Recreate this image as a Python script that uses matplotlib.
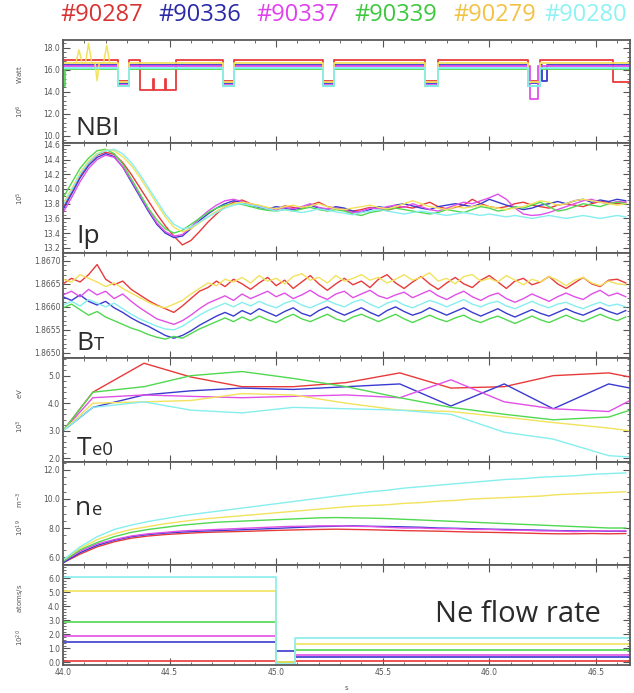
import numpy as np
import matplotlib
matplotlib.use("Agg")
import matplotlib.pyplot as plt
import matplotlib.transforms as mtrans
from matplotlib.ticker import MultipleLocator, FormatStrFormatter

# shots, in the order of the header
shots = ["#90287", "#90336", "#90337", "#90339", "#90279", "#90280"]
title_colors = ["#d83232", "#2a2aa8", "#e040ee", "#3ec83e", "#f2c244", "#8ef2f2"]
line_colors = ["#e83a3a", "#3a3ad0", "#e050e8", "#50d850", "#f2e25c", "#86eeee"]

# ---- NBI power (10^6 W), step traces: (start time, level) ----
nbi_t = [
    [44.0, 44.26, 44.31, 44.36, 44.42, 44.425, 44.48, 44.485, 44.53, 44.75, 44.80, 45.22, 45.27, 45.70, 45.76, 46.18, 46.24, 46.58, 46.66],
    [44.0, 44.26, 44.31, 44.75, 44.80, 45.22, 45.27, 45.70, 45.76, 46.18, 46.24, 46.245, 46.27, 46.66],
    [44.0, 44.26, 44.31, 44.75, 44.80, 45.22, 45.27, 45.70, 45.76, 46.19, 46.23, 46.66],
    [44.0, 44.01, 44.26, 44.31, 44.75, 44.80, 45.22, 45.27, 45.70, 45.76, 46.18, 46.24, 46.66],
    [44.0, 44.26, 44.31, 44.75, 44.80, 45.22, 45.27, 45.70, 45.76, 46.18, 46.24, 46.66],
    [44.0, 44.26, 44.31, 44.75, 44.80, 45.22, 45.27, 45.70, 45.76, 46.18, 46.24, 46.66],
]
nbi_v = [
    [16.85, 15.0, 16.85, 14.2, 15.2, 14.2, 15.2, 14.2, 16.85, 15.0, 16.85, 15.0, 16.85, 15.0, 16.85, 15.0, 16.85, 14.9, 14.9],
    [16.4, 14.8, 16.4, 14.8, 16.4, 14.8, 16.4, 14.8, 16.4, 14.8, 16.4, 15.0, 16.4, 16.4],
    [16.3, 14.6, 16.3, 14.6, 16.3, 14.6, 16.3, 14.6, 16.3, 13.3, 16.3, 16.3],
    [14.5, 16.05, 14.5, 16.05, 14.5, 16.05, 14.5, 16.05, 14.5, 16.05, 14.5, 16.05, 16.05],
    [16.6, 14.9, 16.6, 14.9, 16.6, 14.9, 16.6, 14.9, 16.6, 14.9, 16.6, 16.6],
    [16.2, 14.5, 16.2, 14.5, 16.2, 14.5, 16.2, 14.5, 16.2, 14.5, 16.2, 16.2],
]
# yellow (#90279) spikes at the start
spike_t = [44.06, 44.075, 44.09, 44.105, 44.12, 44.135, 44.15, 44.16, 44.17, 44.19, 44.205, 44.22]
spike_v = [16.6, 17.8, 16.6, 16.6, 18.4, 16.6, 16.6, 15.0, 16.6, 16.6, 18.2, 16.6]

# ---- plasma current (10^5 A), 44.00 .. 46.64 s ----
ip = [
    [13.75, 13.96, 14.18, 14.35, 14.46, 14.50, 14.47, 14.36, 14.20, 14.02, 13.84, 13.66, 13.50, 13.36, 13.24, 13.30, 13.42,
     13.55, 13.66, 13.76, 13.82, 13.85, 13.80, 13.77, 13.74, 13.72, 13.77, 13.75, 13.73, 13.78, 13.82, 13.76, 13.74, 13.72,
     13.70, 13.72, 13.75, 13.73, 13.71, 13.74, 13.76, 13.74, 13.78, 13.82, 13.76, 13.73, 13.75, 13.78, 13.86, 13.80, 13.76,
     13.74, 13.76, 13.80, 13.82, 13.78, 13.76, 13.74, 13.78, 13.80, 13.78, 13.76, 13.80, 13.83, 13.82, 13.80, 13.82],
    [13.72, 13.93, 14.15, 14.32, 14.43, 14.48, 14.44, 14.30, 14.10, 13.90, 13.70, 13.52, 13.40, 13.34, 13.36, 13.46, 13.57,
     13.66, 13.74, 13.80, 13.84, 13.82, 13.78, 13.75, 13.73, 13.76, 13.74, 13.72, 13.75, 13.78, 13.74, 13.72, 13.76, 13.74,
     13.70, 13.68, 13.72, 13.76, 13.74, 13.78, 13.80, 13.77, 13.74, 13.72, 13.76, 13.78, 13.80, 13.78, 13.76, 13.80, 13.86,
     13.82, 13.78, 13.75, 13.72, 13.74, 13.78, 13.80, 13.83, 13.80, 13.84, 13.86, 13.82, 13.85, 13.83, 13.86, 13.84],
    [13.68, 13.88, 14.10, 14.28, 14.40, 14.46, 14.43, 14.30, 14.12, 13.92, 13.72, 13.54, 13.42, 13.36, 13.38, 13.48, 13.60,
     13.70, 13.78, 13.84, 13.86, 13.83, 13.79, 13.76, 13.74, 13.72, 13.75, 13.73, 13.76, 13.80, 13.75, 13.73, 13.74, 13.71,
     13.68, 13.70, 13.74, 13.73, 13.76, 13.78, 13.75, 13.80, 13.76, 13.72, 13.70, 13.74, 13.78, 13.82, 13.80, 13.84, 13.88,
     13.93, 13.86, 13.74, 13.66, 13.64, 13.65, 13.68, 13.72, 13.76, 13.80, 13.84, 13.86, 13.82, 13.80, 13.83, 13.82],
    [13.88, 14.08, 14.28, 14.42, 14.52, 14.54, 14.48, 14.34, 14.14, 13.94, 13.74, 13.58, 13.46, 13.40, 13.44, 13.52, 13.60,
     13.68, 13.74, 13.78, 13.80, 13.79, 13.76, 13.73, 13.71, 13.70, 13.72, 13.70, 13.73, 13.75, 13.72, 13.70, 13.72, 13.70,
     13.66, 13.64, 13.68, 13.70, 13.72, 13.74, 13.72, 13.70, 13.68, 13.66, 13.68, 13.72, 13.70, 13.68, 13.72, 13.76, 13.74,
     13.70, 13.72, 13.76, 13.74, 13.78, 13.82, 13.76, 13.70, 13.72, 13.76, 13.80, 13.78, 13.76, 13.80, 13.82, 13.80],
    [13.80, 14.00, 14.22, 14.38, 14.48, 14.53, 14.52, 14.44, 14.32, 14.16, 13.98, 13.80, 13.62, 13.48, 13.42, 13.46, 13.54,
     13.62, 13.70, 13.76, 13.80, 13.82, 13.80, 13.78, 13.75, 13.73, 13.76, 13.78, 13.75, 13.77, 13.80, 13.76, 13.73, 13.72,
     13.74, 13.76, 13.78, 13.75, 13.73, 13.76, 13.80, 13.84, 13.80, 13.76, 13.74, 13.72, 13.76, 13.74, 13.76, 13.78, 13.76,
     13.74, 13.72, 13.74, 13.76, 13.80, 13.84, 13.82, 13.78, 13.80, 13.84, 13.86, 13.84, 13.82, 13.80, 13.78, 13.80],
    [13.78, 13.98, 14.20, 14.36, 14.47, 14.52, 14.54, 14.48, 14.36, 14.20, 14.02, 13.84, 13.66, 13.52, 13.46, 13.48, 13.55,
     13.62, 13.68, 13.74, 13.78, 13.80, 13.78, 13.76, 13.73, 13.70, 13.72, 13.70, 13.68, 13.70, 13.73, 13.71, 13.69, 13.67,
     13.65, 13.68, 13.70, 13.72, 13.70, 13.68, 13.66, 13.68, 13.70, 13.68, 13.66, 13.64, 13.66, 13.68, 13.66, 13.64, 13.66,
     13.64, 13.62, 13.64, 13.62, 13.60, 13.62, 13.64, 13.62, 13.60, 13.62, 13.64, 13.62, 13.60, 13.62, 13.64, 13.62],
]

# ---- toroidal field, in 1e-4 T above 1.8600 T ----
BT_OFFSET = 1.86
bt = [
    [65.0, 66.2, 65.4, 67.0, 69.2, 66.0, 64.8, 65.6, 63.8, 62.6, 61.4, 60.4, 59.6, 58.8, 60.2, 61.8, 63.4, 64.2, 65.6, 64.4,
     66.0, 65.0, 63.8, 65.2, 66.4, 64.6, 65.8, 64.0, 65.4, 66.8, 65.0, 63.6, 65.0, 66.2, 64.8, 65.6, 64.2, 66.0, 67.0, 65.2,
     64.0, 65.4, 66.6, 65.0, 63.8, 65.2, 66.4, 65.0, 64.2, 65.8, 66.8, 65.4, 64.0, 65.6, 66.2, 64.8, 65.4, 66.6, 65.0, 64.0,
     65.2, 66.4, 65.0, 64.4, 65.8, 66.0, 65.2],
    [62.2, 61.4, 62.6, 61.2, 60.4, 61.2, 59.8, 58.8, 57.6, 56.6, 55.8, 54.8, 53.8, 53.2, 53.8, 54.8, 56.0, 57.0, 58.0, 58.8,
     58.0, 59.2, 58.4, 59.6, 58.8, 58.0, 59.0, 59.8, 58.6, 58.0, 59.2, 60.0, 59.0, 58.2, 59.0, 59.8, 58.8, 58.0, 59.2, 60.0,
     59.0, 58.2, 58.8, 59.8, 59.0, 58.2, 59.0, 59.8, 58.8, 58.0, 58.8, 59.6, 58.6, 57.8, 58.6, 59.4, 58.6, 58.0, 58.8, 59.6,
     58.8, 58.2, 59.0, 59.8, 59.0, 58.4, 59.2],
    [62.6, 63.4, 62.2, 63.8, 62.6, 63.4, 61.8, 62.8, 61.2, 59.8, 58.6, 57.4, 56.8, 56.2, 57.0, 58.2, 59.6, 60.8, 61.6, 62.4,
     61.4, 62.8, 61.8, 62.6, 63.4, 62.2, 63.0, 61.8, 62.6, 63.6, 62.4, 61.6, 62.8, 63.4, 62.0, 62.8, 63.6, 62.4, 61.8, 62.6,
     63.2, 62.0, 62.8, 63.6, 62.4, 61.6, 62.6, 63.4, 62.2, 61.4, 62.4, 63.0, 61.8, 61.0, 61.8, 62.8, 62.0, 61.2, 62.2, 63.0,
     62.2, 61.6, 62.8, 63.6, 62.4, 63.0, 62.2],
    [59.8, 60.6, 59.4, 58.2, 59.0, 57.8, 57.0, 56.2, 55.4, 54.8, 54.0, 53.4, 53.0, 53.6, 53.2, 54.2, 55.2, 56.0, 56.8, 57.6,
     56.8, 57.8, 57.0, 58.0, 57.2, 56.6, 57.6, 58.4, 57.4, 56.8, 57.6, 58.4, 57.4, 56.8, 57.8, 58.4, 57.6, 56.8, 57.6, 58.4,
     57.4, 56.6, 57.4, 58.2, 57.4, 56.8, 57.6, 58.2, 57.2, 56.6, 57.4, 58.0, 57.2, 56.4, 57.2, 58.0, 57.2, 56.6, 57.4, 58.2,
     57.4, 56.8, 57.6, 58.4, 57.6, 57.0, 57.8],
    [66.0, 65.4, 67.0, 66.2, 65.4, 64.4, 65.2, 64.0, 63.0, 62.0, 61.0, 60.2, 59.8, 60.6, 61.4, 62.8, 64.0, 65.2, 64.6, 66.0,
     65.4, 66.4, 65.2, 66.8, 65.6, 66.2, 65.0, 66.6, 67.2, 65.8, 66.4, 65.2, 66.8, 65.6, 66.2, 67.0, 65.8, 66.4, 65.2, 66.0,
     67.0, 65.8, 66.4, 67.4, 65.6, 66.2, 65.0, 66.6, 67.0, 65.6, 66.2, 65.4, 66.8, 65.8, 64.8, 66.0, 65.4, 66.6, 65.8, 64.6,
     65.8, 66.4, 65.2, 64.6, 65.6, 65.0, 64.8],
    [60.4, 61.2, 60.2, 61.6, 60.8, 60.0, 60.8, 59.6, 58.4, 57.4, 56.6, 55.8, 55.2, 55.0, 55.8, 57.0, 58.2, 59.2, 60.0, 60.8,
     60.0, 61.0, 60.2, 61.2, 60.4, 59.8, 60.8, 61.4, 60.4, 59.8, 60.6, 61.4, 60.6, 60.0, 61.0, 61.6, 60.6, 59.8, 60.8, 61.4,
     60.4, 59.8, 60.6, 61.4, 60.8, 60.0, 60.8, 61.6, 60.6, 60.0, 60.8, 61.2, 60.2, 59.6, 60.4, 61.2, 60.4, 59.8, 60.6, 61.0,
     60.2, 59.6, 60.4, 61.0, 60.2, 60.6, 60.0],
]

# ---- central electron temperature (10^3 eV) ----
te_t = [44.00, 44.14, 44.38, 44.60, 44.84, 45.08, 45.33, 45.58, 45.82, 46.07, 46.30, 46.56, 46.66]
te = [
    [3.0, 4.4, 5.45, 4.95, 4.6, 4.6, 4.75, 5.1, 4.55, 4.6, 5.0, 5.1, 4.95],
    [3.0, 3.85, 4.3, 4.45, 4.55, 4.5, 4.6, 4.7, 3.9, 4.7, 3.8, 4.7, 4.55],
    [3.0, 4.2, 4.3, 4.25, 4.2, 4.25, 4.3, 4.2, 4.85, 4.05, 3.8, 3.7, 4.1],
    [3.0, 4.4, 4.6, 5.0, 5.15, 4.9, 4.6, 4.2, 3.85, 3.6, 3.4, 3.5, 3.75],
    [3.0, 4.0, 4.05, 4.1, 4.35, 4.3, 4.0, 3.75, 3.7, 3.5, 3.3, 3.1, 3.0],
    [3.0, 3.85, 4.05, 3.75, 3.65, 3.85, 3.8, 3.75, 3.6, 2.95, 2.7, 2.1, 2.05],
]

# ---- line averaged density (10^19 m^-3), 44.00 .. 46.64 s ----
ne = [
    [5.6, 6.2, 6.7, 7.05, 7.3, 7.45, 7.55, 7.62, 7.68, 7.72, 7.75, 7.78, 7.82, 7.85, 7.88, 7.9, 7.92, 7.9, 7.88, 7.85,
     7.82, 7.8, 7.78, 7.75, 7.72, 7.7, 7.68, 7.65, 7.62, 7.6, 7.6, 7.62, 7.6, 7.62],
    [5.6, 6.3, 6.8, 7.15, 7.4, 7.55, 7.65, 7.72, 7.78, 7.82, 7.86, 7.9, 7.95, 8.0, 8.05, 8.1, 8.12, 8.15, 8.12, 8.1,
     8.08, 8.05, 8.0, 7.98, 7.95, 7.92, 7.9, 7.88, 7.85, 7.82, 7.8, 7.8, 7.78, 7.78],
    [5.7, 6.4, 6.9, 7.2, 7.45, 7.6, 7.7, 7.8, 7.85, 7.9, 7.95, 8.0, 8.05, 8.1, 8.12, 8.15, 8.15, 8.12, 8.1, 8.05,
     8.0, 8.0, 7.95, 7.95, 7.9, 7.9, 7.85, 7.85, 7.8, 7.8, 7.75, 7.8, 7.8, 7.8],
    [5.7, 6.5, 7.0, 7.4, 7.7, 7.9, 8.05, 8.2, 8.3, 8.4, 8.45, 8.5, 8.55, 8.6, 8.65, 8.7, 8.72, 8.7, 8.68, 8.65,
     8.6, 8.55, 8.5, 8.45, 8.4, 8.35, 8.3, 8.25, 8.2, 8.15, 8.1, 8.05, 8.0, 8.0],
    [5.8, 6.6, 7.2, 7.6, 7.9, 8.1, 8.3, 8.45, 8.6, 8.7, 8.8, 8.9, 9.0, 9.1, 9.2, 9.3, 9.4, 9.5, 9.55, 9.6,
     9.7, 9.75, 9.85, 9.9, 10.0, 10.05, 10.1, 10.15, 10.2, 10.3, 10.35, 10.4, 10.45, 10.5],
    [5.8, 6.7, 7.4, 7.9, 8.2, 8.45, 8.65, 8.85, 9.0, 9.15, 9.3, 9.45, 9.6, 9.75, 9.9, 10.05, 10.2, 10.35, 10.5, 10.6,
     10.75, 10.85, 10.95, 11.05, 11.15, 11.25, 11.35, 11.4, 11.5, 11.55, 11.6, 11.7, 11.75, 11.8],
]

# ---- Ne flow rate (10^20 /s): level before 45.0 s, gap, level after ----
flow_t = [44.0, 45.0, 45.09, 46.66]
flow = [
    [0.1, 0.0, 0.1, 0.1],
    [1.45, 0.8, 0.4, 0.4],
    [1.9, 0.0, 0.55, 0.55],
    [2.9, 0.0, 0.85, 0.85],
    [5.1, 0.0, 1.3, 1.3],
    [6.1, -0.1, 1.77, 1.77],
]

fig = plt.figure(figsize=(6.34, 6.93), dpi=100)
W, H = 634.0, 693.0
left, right = 63 / W, 630 / W
edges = [40, 143, 253, 358, 462, 565, 665]
axes = []
for i in range(6):
    b = 1 - edges[i + 1] / H
    h = (edges[i + 1] - edges[i]) / H
    ax = fig.add_axes([left, b, right - left, h], sharex=axes[0] if axes else None)
    axes.append(ax)

TXT = "#2b2b2b"


def style(ax, ylim, major, minor, fmt):
    ax.set_ylim(*ylim)
    ax.set_xlim(44.0, 46.66)
    ax.yaxis.set_major_locator(MultipleLocator(major))
    ax.yaxis.set_minor_locator(MultipleLocator(minor))
    ax.yaxis.set_major_formatter(FormatStrFormatter(fmt))
    ax.xaxis.set_major_locator(MultipleLocator(0.5))
    ax.xaxis.set_minor_locator(MultipleLocator(0.1))
    ax.tick_params(which="both", direction="in", top=True, right=True,
                   labelsize=5.5, color="#555555", labelcolor="#555555", pad=2)
    ax.tick_params(which="major", length=5, width=0.8)
    ax.tick_params(which="minor", length=2.5, width=0.6)
    for s in ax.spines.values():
        s.set_color("#5a5a5a")
        s.set_linewidth(1.3)


def ylab(ax, s):
    ax.text(-0.075, 0.5, s, transform=ax.transAxes, rotation=90, ha="center",
            va="center", fontsize=5, color="#555555")


def big_label(ax, x, y, big, small=None, size=19):
    t = ax.text(x, y, big, transform=ax.transAxes, fontsize=size, color=TXT,
                family="Open Sans", ha="left", va="baseline")
    if small:
        fig.canvas.draw()
        bb = t.get_window_extent()
        tr = mtrans.blended_transform_factory(fig.transFigure, ax.transAxes)
        ax.text(bb.x1 / fig.dpi / fig.get_figwidth() + 0.001, y, small, transform=tr,
                fontsize=size * 0.7, color=TXT, family="Open Sans", ha="left", va="baseline")


lw = 1.0
# NBI
ax = axes[0]
for k in range(6):
    ax.plot(nbi_t[k], nbi_v[k], drawstyle="steps-post", color=line_colors[k], lw=1.3)
    if k == 4:
        ax.plot(spike_t, spike_v, color=line_colors[4], lw=1.1)
style(ax, (9.35, 18.7), 2.0, 0.4, "%.1f")
ylab(ax, "10$^6$          Watt")

# Ip
ax = axes[1]
for k in range(6):
    ax.plot(np.linspace(44.0, 46.64, len(ip[k])), ip[k], color=line_colors[k], lw=lw)
style(ax, (13.13, 14.625), 0.2, 0.05, "%.1f")
ylab(ax, "10$^5$")

# BT
ax = axes[2]
for k in range(6):
    vals = BT_OFFSET + np.array(bt[k]) * 1e-4
    ax.plot(np.linspace(44.0, 46.64, len(vals)), vals, color=line_colors[k], lw=lw)
style(ax, (1.86489, 1.86717), 0.0005, 0.0001, "%.4f")

# Te0
ax = axes[3]
for k in range(6):
    ax.plot(te_t, te[k], color=line_colors[k], lw=lw)
style(ax, (1.87, 5.64), 1.0, 0.2, "%.1f")
ylab(ax, "10$^3$          eV")

# ne
ax = axes[4]
for k in range(6):
    ax.plot(np.linspace(44.0, 46.64, len(ne[k])), ne[k], color=line_colors[k], lw=lw)
style(ax, (5.45, 12.55), 2.0, 0.5, "%.1f")
ylab(ax, "10$^{19}$      m$^{-3}$")

# Ne flow
ax = axes[5]
for k in range(6):
    ax.plot(flow_t, flow[k], drawstyle="steps-post", color=line_colors[k], lw=1.2)
style(ax, (-0.19, 6.95), 1.0, 0.2, "%.1f")
ylab(ax, "10$^{20}$        atoms/s")
ax.set_xlabel("s", fontsize=5, color="#555555", labelpad=6)

for a in axes[:-1]:
    a.tick_params(labelbottom=False)

# panel labels
big_label(axes[0], 0.021, 0.08, "NBI")
big_label(axes[1], 0.024, 0.09, "Ip")
big_label(axes[2], 0.024, 0.076, "B", "T")
big_label(axes[3], 0.024, 0.07, "T", "e0")
big_label(axes[4], 0.021, 0.49, "n", "e")
axes[5].text(0.656, 0.43, "Ne flow rate", transform=axes[5].transAxes, fontsize=21,
             color=TXT, family="Open Sans", ha="left", va="baseline")

# header
xc = [102, 200, 298, 396, 495, 586]
for k in range(6):
    fig.text(xc[k] / W, 1 - 15 / H, shots[k], color=title_colors[k], fontsize=17,
             family="Open Sans", ha="center", va="center")

fig.savefig("out.png", dpi=100)
